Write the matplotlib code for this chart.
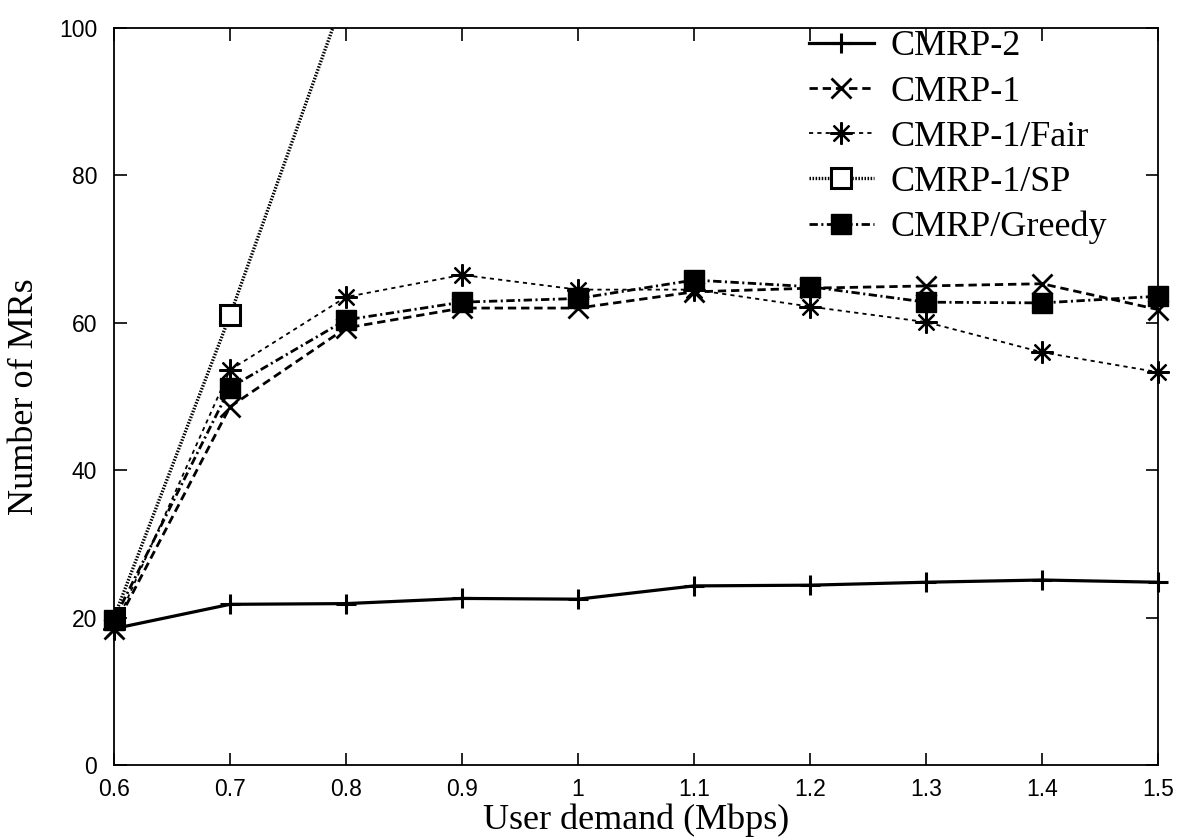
import matplotlib
matplotlib.use("Agg")
import matplotlib.pyplot as plt

demand = [0.6, 0.7, 0.8, 0.9, 1.0, 1.1, 1.2, 1.3, 1.4, 1.5]

cmrp2 = [18.5, 21.8, 21.9, 22.6, 22.5, 24.3, 24.4, 24.8, 25.1, 24.8]
cmrp1 = [18.5, 48.6, 59.3, 62.0, 62.0, 64.2, 64.7, 65.0, 65.3, 61.8]
cmrp1_fair = [18.5, 53.6, 63.5, 66.5, 64.5, 64.5, 62.2, 60.1, 56.0, 53.3]
sp_demand = [0.6, 0.7, 0.8]
cmrp1_sp = [20.0, 61.0, 105.0]
greedy = [19.7, 51.2, 60.4, 62.8, 63.3, 65.8, 64.9, 62.8, 62.7, 63.6]

xticks = [0.6, 0.7, 0.8, 0.9, 1.0, 1.1, 1.2, 1.3, 1.4, 1.5]
xticklabels = ["0.6", "0.7", "0.8", "0.9", "1", "1.1", "1.2", "1.3", "1.4", "1.5"]
yticks = [0, 20, 40, 60, 80, 100]

plt.rcParams["lines.scale_dashes"] = False
SERIF = ["Liberation Serif", "DejaVu Serif"]
SANS = ["Liberation Sans", "DejaVu Sans"]

fig = plt.figure(figsize=(12, 8.4), dpi=100)
ax = fig.add_axes([114 / 1200, 1 - 765 / 840, (1158 - 114) / 1200, (765 - 28) / 840])

star = (8, 2, 0)
ax.plot(demand, cmrp2, color="black", lw=2.3, ls="-", marker="+", ms=14, mew=2.2,
        label="CMRP-2", clip_on=False, zorder=3)
ax.plot(demand, cmrp1, color="black", lw=2.0, ls=(0, (6, 3.5)), marker="x", ms=14, mew=2.0,
        label="CMRP-1", clip_on=False, zorder=3)
ax.plot(demand, cmrp1_fair, color="black", lw=1.3, ls=(0, (3, 3)), marker=star, ms=16, mew=1.6,
        label="CMRP-1/Fair", clip_on=False, zorder=3)
ax.plot(sp_demand, cmrp1_sp, color="black", lw=2.4, ls=(0, (1.1, 1.1)), marker="s", ms=15,
        mfc="white", mew=2.2, label="CMRP-1/SP", zorder=3)
ax.plot(demand, greedy, color="black", lw=2.0, ls=(0, (6, 2.5, 1.5, 2.5)), marker="s", ms=15,
        mfc="black", mew=1, label="CMRP/Greedy", clip_on=False, zorder=4)

ax.set_xlim(0.6, 1.5)
ax.set_ylim(0, 100)
ax.set_xticks(xticks)
ax.set_xticklabels(xticklabels, fontfamily=SANS)
ax.set_yticks(yticks)
ax.set_yticklabels([str(v) for v in yticks], fontfamily=SANS)
ax.tick_params(direction="in", length=9, width=1.2, labelsize=16.5, top=True, right=True)
ax.tick_params(axis="x", pad=9)
ax.tick_params(axis="y", pad=12)
for s in ax.spines.values():
    s.set_linewidth(1.3)

ax.set_xlabel("User demand (Mbps)", fontfamily=SERIF, fontsize=26, labelpad=2)
ax.set_ylabel("Number of MRs", fontfamily=SERIF, fontsize=26, labelpad=13)

leg = ax.legend(loc="upper right", bbox_to_anchor=(0.951, 0.997), frameon=False,
                prop={"family": SERIF, "size": 26}, handlelength=1.8, handletextpad=0.45,
                labelspacing=0.33, borderaxespad=0, borderpad=0)
for t in leg.get_texts():
    t.set_ha("left")

fig.savefig("out.png", dpi=100)
